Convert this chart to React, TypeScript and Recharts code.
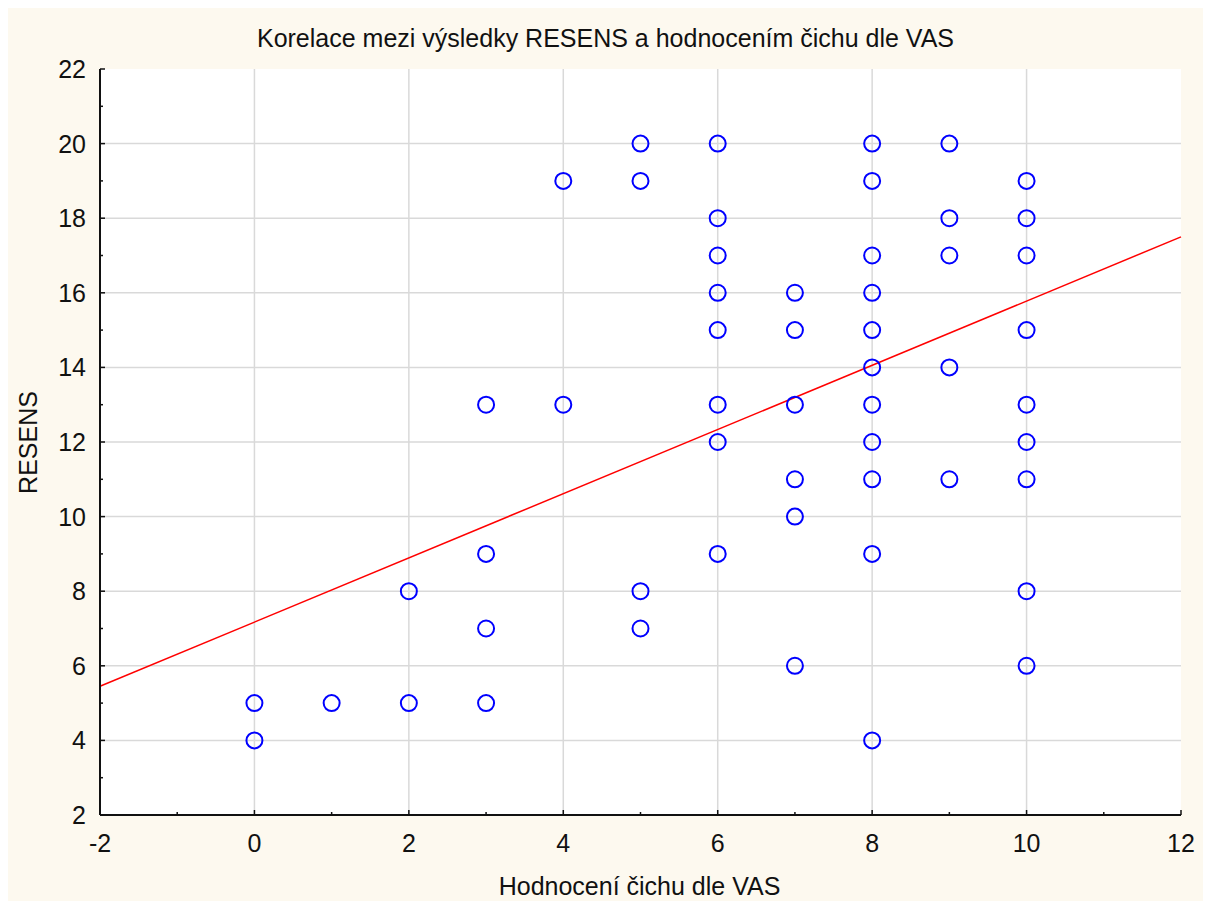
import React from "react";
import {
  ScatterChart,
  Scatter,
  XAxis,
  YAxis,
  CartesianGrid,
  ReferenceLine,
} from "recharts";

// VAS rating (x) and RESENS score (y), one entry per subject
const vasScores = [
  0, 0, 1, 2, 2, 3, 3, 3, 3, 4, 4, 5, 5, 5, 5,
  6, 6, 6, 6, 6, 6, 6, 6,
  7, 7, 7, 7, 7, 7,
  8, 8, 8, 8, 8, 8, 8, 8, 8, 8, 8,
  9, 9, 9, 9, 9,
  10, 10, 10, 10, 10, 10, 10, 10, 10,
];
const resensScores = [
  5, 4, 5, 8, 5, 13, 9, 7, 5, 19, 13, 20, 19, 8, 7,
  20, 18, 17, 16, 15, 13, 12, 9,
  16, 15, 13, 11, 10, 6,
  20, 19, 17, 16, 15, 14, 13, 12, 11, 9, 4,
  20, 18, 17, 14, 11,
  19, 18, 17, 15, 13, 12, 11, 8, 6,
];

// fitted line endpoints as drawn in the source
const fitX = [-2, 12];
const fitY = [5.45, 17.5];

const xTicks = [-2, -1, 0, 1, 2, 3, 4, 5, 6, 7, 8, 9, 10, 11, 12];
const yTicks = [2, 3, 4, 5, 6, 7, 8, 9, 10, 11, 12, 13, 14, 15, 16, 17, 18, 19, 20, 21, 22];
const xGrid = [0, 2, 4, 6, 8, 10];
const yGrid = [4, 6, 8, 10, 12, 14, 16, 18, 20];

const points = vasScores.map((x, i) => ({ x, y: resensScores[i] }));

const FONT = "'Liberation Sans', Arial, sans-serif";
const AXIS = "#111111";
const GRID = "#d9d9d9";

const isMajor = (v: number) => v % 2 === 0;

const BottomTick = ({ x, y, payload }: any) => (
  <g>
    <line x1={x} x2={x} y1={y} y2={y - (isMajor(payload.value) ? 5 : 3)} stroke={AXIS} strokeWidth={1.5} />
    {isMajor(payload.value) && (
      <text x={x} y={y + 37} textAnchor="middle" fontSize={25} fontFamily={FONT} fill="#111">
        {payload.value}
      </text>
    )}
  </g>
);

const TopTick = ({ x, y, payload }: any) => (
  <line x1={x} x2={x} y1={y} y2={y + (isMajor(payload.value) ? 5 : 3)} stroke={AXIS} strokeWidth={1.5} />
);

const LeftTick = ({ x, y, payload }: any) => (
  <g>
    <line x1={x} x2={x + (isMajor(payload.value) ? 5 : 3)} y1={y} y2={y} stroke={AXIS} strokeWidth={1.5} />
    {isMajor(payload.value) && (
      <text x={x - 14} y={y + 9} textAnchor="end" fontSize={25} fontFamily={FONT} fill="#111">
        {payload.value}
      </text>
    )}
  </g>
);

const RightTick = ({ x, y, payload }: any) => (
  <line x1={x} x2={x - (isMajor(payload.value) ? 5 : 3)} y1={y} y2={y} stroke={AXIS} strokeWidth={1.5} />
);

const Ring = ({ cx, cy }: any) => (
  <circle cx={cx} cy={cy} r={8} fill="none" stroke="#0000ff" strokeWidth={2} />
);

export default function App() {
  return (
    <div
      style={{
        position: "relative",
        width: 1203,
        height: 893,
        background: "#fdf9ef",
        fontFamily: FONT,
        color: "#111",
      }}
    >
      <div
        style={{
          position: "absolute",
          left: 197.5,
          top: 18,
          width: 800,
          textAlign: "center",
          fontSize: 25,
          lineHeight: "25px",
        }}
      >
        Korelace mezi výsledky RESENS a hodnocením čichu dle VAS
      </div>
      <div
        style={{
          position: "absolute",
          left: 331.5,
          top: 866,
          width: 600,
          textAlign: "center",
          fontSize: 25,
          lineHeight: "25px",
        }}
      >
        Hodnocení čichu dle VAS
      </div>
      <div
        style={{
          position: "absolute",
          left: -80,
          top: 421.5,
          width: 200,
          textAlign: "center",
          fontSize: 25,
          lineHeight: "25px",
          transform: "rotate(-90deg)",
        }}
      >
        RESENS
      </div>
      <ScatterChart
        width={1203}
        height={893}
        margin={{ top: 61, right: 30, bottom: 46, left: 32 }}
        style={{ position: "absolute", left: 0, top: 0 }}
      >
        <CartesianGrid stroke="none" fill="#ffffff" />
        {xGrid.map((v) => (
          <ReferenceLine key={`gx${v}`} x={v} stroke={GRID} strokeWidth={1.5} />
        ))}
        {yGrid.map((v) => (
          <ReferenceLine key={`gy${v}`} y={v} stroke={GRID} strokeWidth={1.5} />
        ))}
        <XAxis
          type="number"
          dataKey="x"
          domain={[-2, 12]}
          ticks={xTicks}
          interval={0}
          height={40}
          tickSize={0}
          tickMargin={0}
          tickLine={false}
          tick={<BottomTick />}
          stroke={AXIS}
          axisLine={{ stroke: AXIS, strokeWidth: 2 }}
          allowDataOverflow
        />
        <XAxis
          xAxisId="top"
          orientation="top"
          type="number"
          domain={[-2, 12]}
          ticks={xTicks}
          interval={0}
          height={0}
          tickSize={0}
          tickMargin={0}
          tickLine={false}
          tick={<TopTick />}
          stroke={AXIS}
          axisLine={{ stroke: AXIS, strokeWidth: 2 }}
        />
        <YAxis
          type="number"
          dataKey="y"
          domain={[2, 22]}
          ticks={yTicks}
          interval={0}
          width={60}
          tickSize={0}
          tickMargin={0}
          tickLine={false}
          tick={<LeftTick />}
          stroke={AXIS}
          axisLine={{ stroke: AXIS, strokeWidth: 2 }}
          allowDataOverflow
        />
        <YAxis
          yAxisId="right"
          orientation="right"
          type="number"
          domain={[2, 22]}
          ticks={yTicks}
          interval={0}
          width={0}
          tickSize={0}
          tickMargin={0}
          tickLine={false}
          tick={<RightTick />}
          stroke={AXIS}
          axisLine={{ stroke: AXIS, strokeWidth: 2 }}
        />
        <ReferenceLine
          segment={[
            { x: fitX[0], y: fitY[0] },
            { x: fitX[1], y: fitY[1] },
          ]}
          stroke="#ff0000"
          strokeWidth={1.5}
        />
        <Scatter data={points} shape={<Ring />} isAnimationActive={false} />
      </ScatterChart>
    </div>
  );
}
